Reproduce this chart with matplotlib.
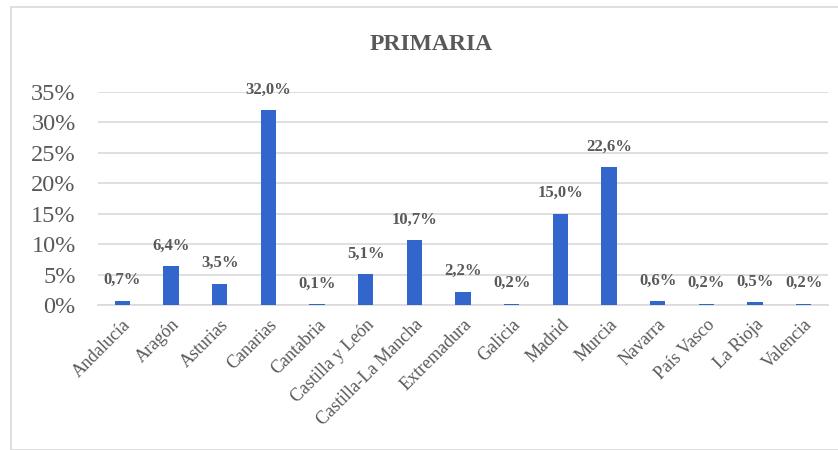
import matplotlib.pyplot as plt
from matplotlib.patches import Rectangle
from matplotlib.ticker import FuncFormatter

# Datos
regiones = ["Andalucía", "Aragón", "Asturias", "Canarias", "Cantabria",
            "Castilla y León", "Castilla-La Mancha", "Extremadura", "Galicia",
            "Madrid", "Murcia", "Navarra", "País Vasco", "La Rioja", "Valencia"]
valores = [0.7, 6.4, 3.5, 32.0, 0.1, 5.1, 10.7, 2.2, 0.2, 15.0, 22.6, 0.6, 0.2, 0.5, 0.2]

gris = "#595959"
azul = "#3366CC"
plt.rcParams['font.family'] = ['Liberation Serif', 'DejaVu Serif']

fig = plt.figure(figsize=(8.38, 4.5), dpi=100)
fig.patches.append(Rectangle((11 / 838, 0), 1, 1 - 7 / 450, transform=fig.transFigure,
                             fill=False, edgecolor="#D9D9D9", linewidth=1.2))

ax = fig.add_axes([98 / 838, 1 - 305 / 450, 730 / 838, 213 / 450])
x = range(len(regiones))
ax.bar(x, [v / 100 for v in valores], width=0.31, color=azul, zorder=3)

for i, v in enumerate(valores):
    ax.annotate(f"{v:.1f}%".replace(".", ","), (i, v / 100), xytext=(0, 9),
                textcoords="offset points", ha="center", va="bottom",
                fontsize=12, fontweight="bold", color=gris)

ax.set_ylim(0, 0.35)
ax.set_xlim(-0.5, len(regiones) - 0.5)
ax.set_yticks([i * 0.05 for i in range(8)])
ax.yaxis.set_major_formatter(FuncFormatter(lambda y, p: f"{round(y * 100)}%"))
ax.grid(axis="y", color="#D9D9D9", linewidth=1.2, zorder=0)
ax.set_xticks(list(x))
ax.set_xticklabels(regiones, rotation=45, ha="right", rotation_mode="anchor",
                   fontsize=13, color=gris)
ax.tick_params(axis="y", labelsize=17.5, colors=gris, length=0, pad=16)
ax.tick_params(axis="x", length=0, pad=8)
for s in ["top", "right", "left"]:
    ax.spines[s].set_visible(False)
ax.spines["bottom"].set_color("#D9D9D9")
ax.spines["bottom"].set_linewidth(1.2)

fig.text(431 / 838, 1 - 45 / 450, "PRIMARIA", ha="center", va="center",
         fontsize=17, fontweight="bold", color=gris)

fig.savefig("out.png", dpi=100)
